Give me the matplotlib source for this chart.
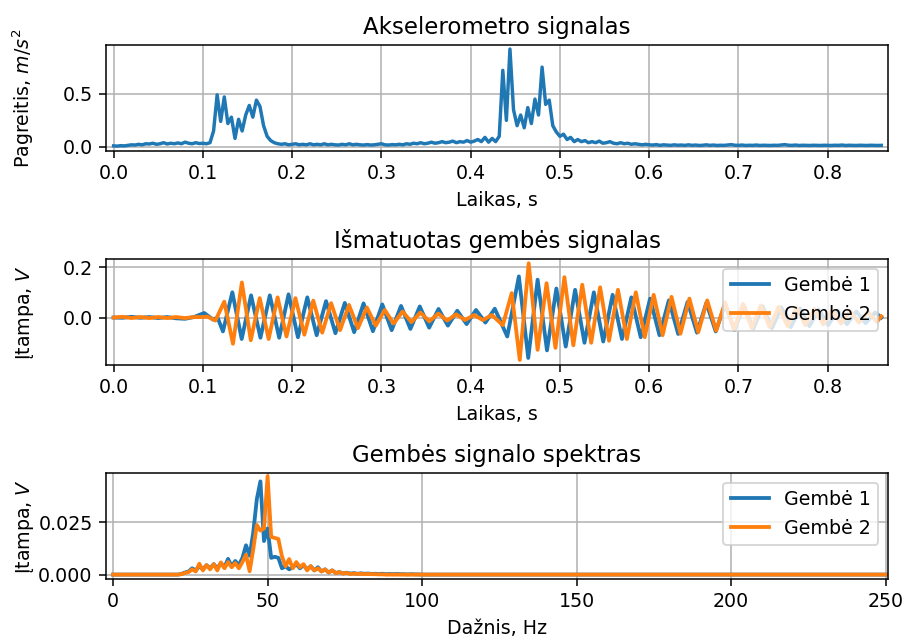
import numpy as np
import matplotlib
matplotlib.use("Agg")
import matplotlib.pyplot as plt

# --- accelerometer magnitude, sampled every 4 ms from 0 to 0.86 s ---
acc_dt = 0.004
acc_vals = [
    0.010, 0.008, 0.012, 0.010, 0.015, 0.020, 0.018, 0.025, 0.020, 0.030,
    0.028, 0.035, 0.025, 0.030, 0.040, 0.028, 0.035, 0.030, 0.038, 0.030,
    0.045, 0.035, 0.030, 0.040, 0.032, 0.035, 0.030, 0.040, 0.150, 0.490,
    0.240, 0.470, 0.220, 0.280, 0.080, 0.260, 0.150, 0.300, 0.390, 0.280,
    0.440, 0.380, 0.200, 0.100, 0.060, 0.040, 0.030, 0.025, 0.030, 0.020,
    0.025, 0.030, 0.020, 0.025, 0.020, 0.030, 0.020, 0.025, 0.020, 0.030,
    0.020, 0.025, 0.020, 0.018, 0.025, 0.020, 0.030, 0.020, 0.025, 0.020,
    0.018, 0.022, 0.018, 0.020, 0.025, 0.030, 0.020, 0.018, 0.022, 0.020,
    0.025, 0.020, 0.030, 0.025, 0.035, 0.030, 0.040, 0.030, 0.035, 0.045,
    0.035, 0.040, 0.050, 0.040, 0.045, 0.055, 0.040, 0.050, 0.045, 0.060,
    0.045, 0.055, 0.070, 0.050, 0.090, 0.045, 0.080, 0.050, 0.100, 0.720,
    0.250, 0.920, 0.350, 0.200, 0.300, 0.180, 0.370, 0.220, 0.450, 0.300,
    0.750, 0.400, 0.440, 0.200, 0.140, 0.100, 0.120, 0.070, 0.090, 0.050,
    0.070, 0.050, 0.060, 0.040, 0.050, 0.040, 0.055, 0.035, 0.040, 0.050,
    0.035, 0.030, 0.040, 0.030, 0.035, 0.025, 0.030, 0.025, 0.020, 0.025,
    0.020, 0.018, 0.022, 0.015, 0.020, 0.018, 0.015, 0.020, 0.016, 0.018,
    0.015, 0.020, 0.015, 0.018, 0.014, 0.016, 0.020, 0.015, 0.018, 0.014,
    0.016, 0.015, 0.018, 0.022, 0.016, 0.015, 0.018, 0.014, 0.016, 0.015,
    0.018, 0.014, 0.016, 0.015, 0.014, 0.016, 0.015, 0.018, 0.022, 0.016,
    0.015, 0.018, 0.014, 0.016, 0.015, 0.014, 0.016, 0.015, 0.014, 0.016,
    0.015, 0.014, 0.016, 0.015, 0.018, 0.014, 0.016, 0.015, 0.014, 0.016,
    0.015, 0.014, 0.016, 0.015, 0.014, 0.015,
]
acc_t = np.arange(len(acc_vals)) * acc_dt

# --- cantilever 1 voltage: successive extrema (time s, value V) ---
g1_t = [
    0.000, 0.010, 0.020, 0.030, 0.040, 0.050, 0.060, 0.070, 0.080, 0.090,
    0.1015, 0.1115, 0.1165, 0.1225,
    0.133, 0.1435, 0.154, 0.1645, 0.175, 0.1855, 0.196, 0.2065, 0.217, 0.2275,
    0.238, 0.2485, 0.259, 0.2695, 0.280, 0.2905, 0.301, 0.3115, 0.322, 0.3325,
    0.343, 0.3535, 0.364, 0.3745, 0.385, 0.3955, 0.406, 0.4165, 0.427, 0.441,
    0.454, 0.4645, 0.475, 0.4855, 0.496, 0.5065, 0.517, 0.5275, 0.538, 0.5485,
    0.559, 0.5695, 0.580, 0.5905, 0.601, 0.6115, 0.622, 0.6325, 0.643, 0.6535,
    0.664, 0.6745, 0.685, 0.6955, 0.706, 0.7165, 0.727, 0.7375, 0.748, 0.7585,
    0.769, 0.7795, 0.790, 0.8005, 0.811, 0.8215, 0.832, 0.8425, 0.853, 0.860,
]
g1_v = [
    0.000, -0.001, 0.003, -0.001, 0.002, -0.002, 0.002, -0.003, -0.005, 0.002,
    0.018, -0.008, 0.000, -0.055,
    0.100, -0.085, 0.088, -0.080, 0.088, -0.080, 0.092, -0.078, 0.080, -0.070,
    0.065, -0.062, 0.058, -0.058, 0.056, -0.054, 0.052, -0.050, 0.046, -0.045,
    0.044, -0.040, 0.034, -0.032, 0.027, -0.026, 0.030, -0.020, 0.035, -0.075,
    0.163, -0.160, 0.150, -0.130, 0.115, -0.115, 0.110, -0.100, 0.100, -0.095,
    0.090, -0.085, 0.080, -0.078, 0.075, -0.070, 0.068, -0.065, 0.062, -0.060,
    0.058, -0.055, 0.052, -0.050, 0.048, -0.045, 0.044, -0.042, 0.040, -0.038,
    0.036, -0.034, 0.032, -0.030, 0.028, -0.026, 0.024, -0.022, 0.020, 0.000,
]

# --- cantilever 2 voltage: successive extrema (time s, value V) ---
g2_t = [
    0.000, 0.010, 0.020, 0.030, 0.040, 0.050, 0.060, 0.070, 0.080, 0.090,
    0.100, 0.105, 0.114, 0.124, 0.1337,
    0.1437, 0.1537, 0.1637, 0.1737, 0.1837, 0.1937, 0.2037, 0.2137, 0.2237, 0.2337,
    0.2437, 0.2537, 0.2637, 0.2737, 0.2837, 0.2937, 0.3037, 0.3137, 0.3237, 0.3337,
    0.3437, 0.3537, 0.3637, 0.3737, 0.3837, 0.3937, 0.4037, 0.4137, 0.4237, 0.436,
    0.446, 0.455, 0.465, 0.475, 0.485, 0.495, 0.505, 0.515, 0.525, 0.535,
    0.545, 0.555, 0.565, 0.575, 0.585, 0.595, 0.605, 0.615, 0.625, 0.635,
    0.645, 0.655, 0.665, 0.675, 0.685, 0.695, 0.705, 0.715, 0.725, 0.735,
    0.745, 0.755, 0.765, 0.775, 0.785, 0.795, 0.805, 0.815, 0.825, 0.835,
    0.845, 0.855, 0.860,
]
g2_v = [
    0.000, 0.003, -0.002, 0.002, -0.002, 0.002, -0.002, 0.002, -0.002, 0.002,
    0.002, 0.004, -0.012, 0.063, -0.104,
    0.139, -0.090, 0.077, -0.085, 0.080, -0.075, 0.077, -0.068, 0.067, -0.060,
    0.057, -0.050, 0.050, -0.042, 0.040, -0.032, 0.030, -0.024, 0.024, -0.018,
    0.020, -0.015, 0.016, -0.012, 0.013, -0.010, 0.010, -0.010, 0.010, -0.030,
    0.097, -0.168, 0.215, -0.128, 0.136, -0.120, 0.160, -0.110, 0.130, -0.100,
    0.120, -0.092, 0.110, -0.085, 0.100, -0.078, 0.090, -0.070, 0.082, -0.064,
    0.075, -0.058, 0.068, -0.052, 0.060, -0.047, 0.054, -0.042, 0.048, -0.038,
    0.043, -0.034, 0.038, -0.030, 0.034, -0.027, 0.030, -0.024, 0.026, -0.020,
    0.022, -0.017, 0.005,
]

# --- amplitude spectra, bins of 250/215 Hz from 0 Hz; bins past the list are 0 ---
spec_df = 250 / 215
spec_n = 216
spec_g1 = [
    0, 0, 0, 0, 0, 0, 0, 0, 0, 0,
    0, 0, 0, 0, 0, 0, 0, 0, 0, 0.0003,
    0.0010, 0.0015, 0.0030, 0.0020, 0.0040, 0.0025, 0.0045, 0.0030, 0.0050, 0.0030,
    0.0055, 0.0035, 0.0075, 0.0040, 0.0065, 0.0045, 0.0080, 0.0140, 0.0090, 0.0200,
    0.0360, 0.0445, 0.0160, 0.0220, 0.0080, 0.0085, 0.0080, 0.0030, 0.0040, 0.0025,
    0.0035, 0.0050, 0.0030, 0.0045, 0.0025, 0.0040, 0.0020, 0.0035, 0.0015, 0.0025,
    0.0010, 0.0020, 0.0008, 0.0012, 0.0006, 0.0009, 0.0005, 0.0007, 0.0004, 0.0006,
    0.0004, 0.0005, 0.0003, 0.0004, 0.0003, 0.0004, 0.0002, 0.0003, 0.0002, 0.0003,
    0.0002, 0.0002, 0.0001, 0.0002, 0.0001, 0.0001,
]
spec_g2 = [
    0, 0, 0, 0, 0, 0, 0, 0, 0, 0,
    0, 0, 0, 0, 0, 0, 0, 0, 0, 0.0002,
    0.0008, 0.0012, 0.0025, 0.0015, 0.0052, 0.0020, 0.0045, 0.0025, 0.0050, 0.0020,
    0.0058, 0.0030, 0.0060, 0.0035, 0.0055, 0.0030, 0.0060, 0.0095, 0.0016, 0.0120,
    0.0237, 0.0210, 0.0220, 0.0470, 0.0180, 0.0175, 0.0170, 0.0087, 0.0040, 0.0074,
    0.0030, 0.0060, 0.0035, 0.0050, 0.0020, 0.0040, 0.0020, 0.0030, 0.0015, 0.0025,
    0.0010, 0.0020, 0.0007, 0.0012, 0.0005, 0.0008, 0.0003, 0.0005, 0.0003, 0.0004,
    0.0002, 0.0003, 0.0002, 0.0002, 0.0001, 0.0001,
]
spec_f = np.arange(spec_n) * spec_df


def pad(vals, n):
    out = np.zeros(n)
    out[:len(vals)] = vals
    return out


blue = "#1f77b4"
orange = "#ff7f0e"

DPI = 137
fig = plt.figure(figsize=(903 / DPI, 637 / DPI), dpi=DPI)
L, W = 106 / 903, 782 / 903
H = 106 / 637
ax1 = fig.add_axes([L, 1 - 151 / 637, W, H])
ax2 = fig.add_axes([L, 1 - 365 / 637, W, H])
ax3 = fig.add_axes([L, 1 - 579 / 637, W, H])

ax1.plot(acc_t, acc_vals, color=blue, lw=1.8)
ax1.set_title("Akselerometro signalas")
ax1.set_xlabel("Laikas, s")
ax1.set_ylabel("Pagreitis, $m/s^2$")
ax1.set_xlim(-0.0085, 0.8675)
ax1.set_ylim(-0.038, 0.958)
ax1.set_xticks(np.arange(0, 0.81, 0.1))
ax1.grid(True)

ax2.plot(g1_t, g1_v, color=blue, lw=2, label="Gembė 1")
ax2.plot(g2_t, g2_v, color=orange, lw=2, label="Gembė 2")
ax2.set_title("Išmatuotas gembės signalas")
ax2.set_xlabel("Laikas, s")
ax2.set_ylabel("Įtampa, $V$")
ax2.set_xlim(-0.0085, 0.8675)
ax2.set_ylim(-0.188, 0.232)
ax2.set_xticks(np.arange(0, 0.81, 0.1))
ax2.set_yticks([0.0, 0.2])
ax2.grid(True)
ax2.legend(loc="upper right")

ax3.plot(spec_f, pad(spec_g1, spec_n), color=blue, lw=2, label="Gembė 1")
ax3.plot(spec_f, pad(spec_g2, spec_n), color=orange, lw=2, label="Gembė 2")
ax3.set_title("Gembės signalo spektras")
ax3.set_xlabel("Dažnis, Hz")
ax3.set_ylabel("Įtampa, $V$")
ax3.set_xlim(-2.3, 250.8)
ax3.set_ylim(-0.0021, 0.0485)
ax3.set_yticks([0.0, 0.025])
ax3.grid(True)
ax3.legend(loc="upper right")

# common x position for the three y-axis labels
for ax in (ax1, ax2, ax3):
    ax.yaxis.set_label_coords(-0.089, 0.5)

fig.savefig("out.png", dpi=DPI)
